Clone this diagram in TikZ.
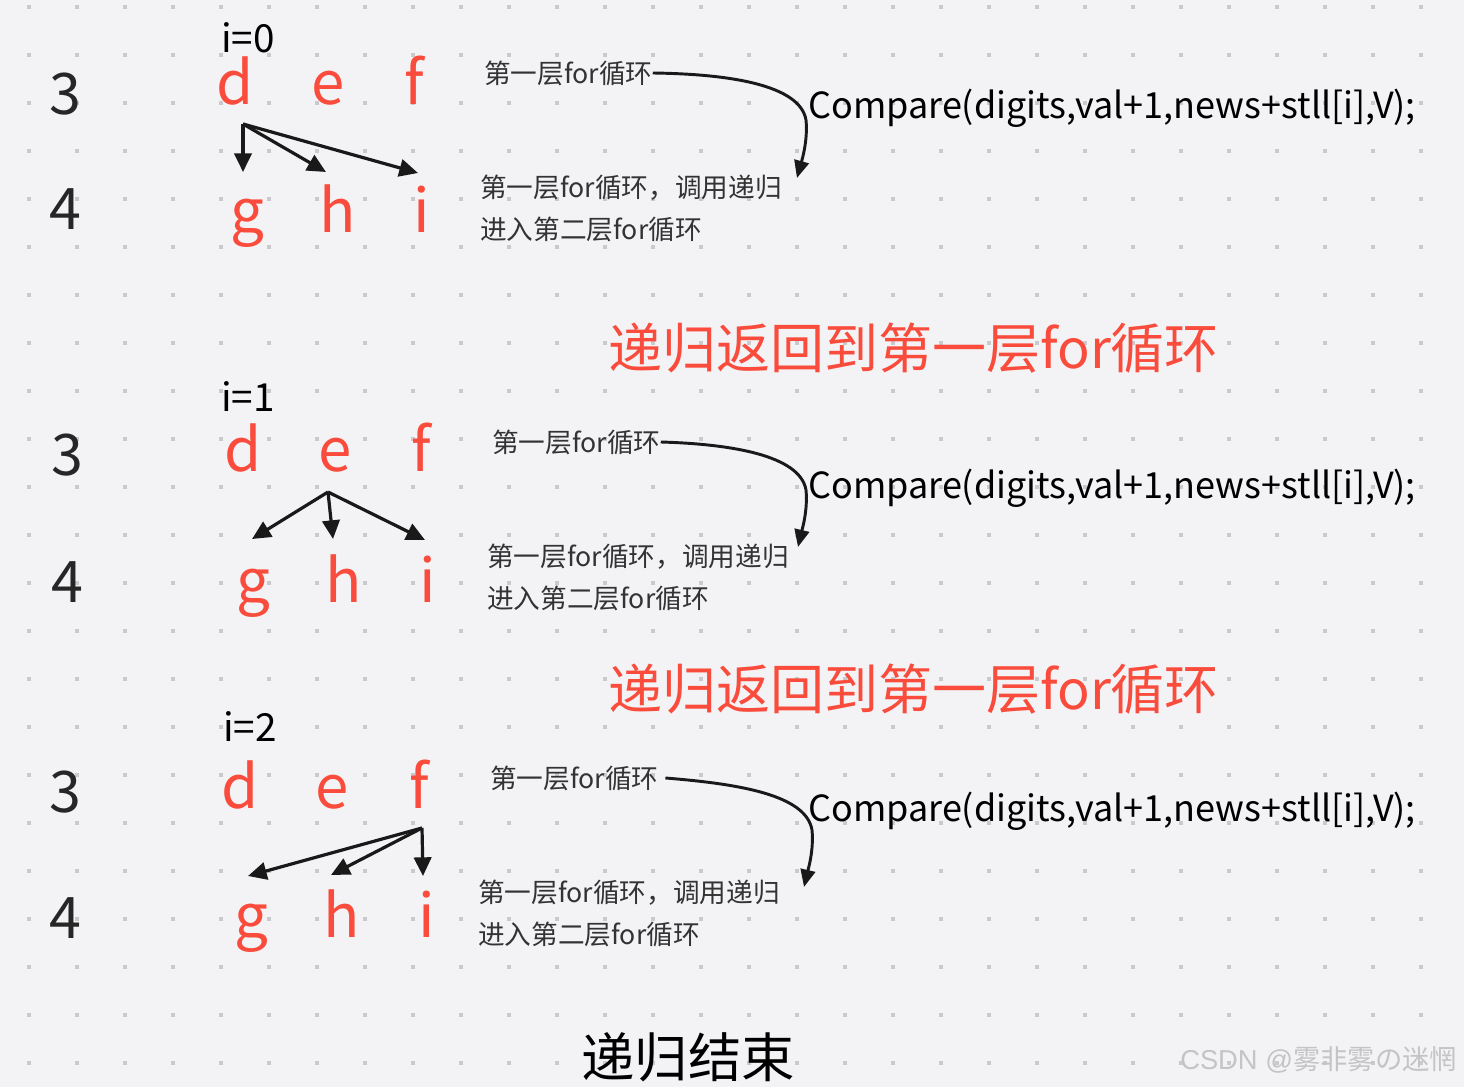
\documentclass[tikz,border=0pt]{standalone}
\usepackage{fontspec}
\setmainfont{Noto Sans CJK SC}
\newfontfamily\wmlatin{Liberation Sans}
\usetikzlibrary{arrows.meta, positioning, calc}
\definecolor{boardgray}{RGB}{243,243,246}
\definecolor{dotgray}{RGB}{202,202,206}
\definecolor{recred}{RGB}{250,76,60}
\definecolor{markgray}{RGB}{196,196,198}
\tikzset{
  level/.style={
    anchor=base, inner sep=0pt,
    font=\fontsize{43}{43}\selectfont, text=black!85
  },
  letter/.style={
    anchor=base, inner sep=0pt,
    font=\fontsize{45}{45}\selectfont, text=recred
  },
  idx/.style={
    anchor=base west, inner sep=0pt,
    font=\fontsize{29}{29}\selectfont, text=black
  },
  note/.style={
    anchor=west, inner sep=0pt,
    font=\fontsize{20}{20}\selectfont, text=black!80
  },
  call/.style={
    anchor=west, inner sep=0pt,
    font=\fontsize{27}{27}\selectfont, text=black
  },
  back/.style={
    anchor=west, inner sep=0pt,
    font=\fontsize{40.5}{40.5}\selectfont, text=recred
  },
  link/.style={line width=2.4pt, color=black!90, -{Triangle[length=14pt,width=13pt]}},
  hop/.style={line width=2.2pt, color=black!90, -{Triangle[length=13pt,width=11pt]}},
}

\begin{document}
\begin{tikzpicture}[x=0.75pt, y=-0.75pt]
  % board with dot grid
  \fill[boardgray] (0,0) rectangle (1464,1087);
  \foreach \gx in {0,...,29} {
    \foreach \gy in {0,...,22} {
      \fill[dotgray] ({29+48*\gx-2},{7+48*\gy-2}) rectangle ++(4,4);
    }
  }
  \useasboundingbox (0,0) rectangle (1464,1087);

  % i=0
  \node (k0)  [idx]    at (221,53)  {i=0};
  \node (l03) [level]  at (65,115)  {3};
  \node (l04) [level]  at (65,230)  {4};
  \node (d0)  [letter] at (235,105) {d};
  \node (e0)  [letter] at (328,105) {e};
  \node (f0)  [letter] at (414,105) {f};
  \node (g0)  [letter] at (247,233) {g};
  \node (h0)  [letter] at (338,233) {h};
  \node (i0)  [letter] at (422,233) {i};
  \coordinate (s0) at (243,124);
  \coordinate (tg0) at (243,172);
  \coordinate (th0) at (326,172);
  \coordinate (ti0) at (418,173);
  \draw [link] (s0) -- (tg0);
  \draw [link] (s0) -- (th0);
  \draw [link] (s0) -- (ti0);
  \node (n0)  [note] at (484,73)  {第一层for循环};
  \node (m0)  [note] at (480,188) {第一层for循环，调用递归};
  \node (p0)  [note, below=12pt of m0.south west, anchor=north west] {进入第二层for循环};
  \node (c0)  [call] at (808,108) {Compare(digits,val+1,news+stll[i],V);};
  \coordinate (r0) at (797,178);
  \draw [hop] (n0.east) .. controls (730,74) and (800,85) .. (806,120)
                        .. controls (808,140) and (802,160) .. (r0);

  \node (b0) [back] at (608,348) {递归返回到第一层for循环};

  % i=1
  \node (k1)  [idx]    at (221,412) {i=1};
  \node (l13) [level]  at (67,475)  {3};
  \node (l14) [level]  at (67,602)  {4};
  \node (d1)  [letter] at (243,472) {d};
  \node (e1)  [letter] at (335,472) {e};
  \node (f1)  [letter] at (421,472) {f};
  \node (g1)  [letter] at (253,602) {g};
  \node (h1)  [letter] at (344,602) {h};
  \node (i1)  [letter] at (428,602) {i};
  \coordinate (s1) at (328,492);
  \coordinate (tg1) at (252,539);
  \coordinate (th1) at (333,539);
  \coordinate (ti1) at (425,540);
  \draw [link] (s1) -- (tg1);
  \draw [link] (s1) -- (th1);
  \draw [link] (s1) -- (ti1);
  \node (n1)  [note] at (492,442) {第一层for循环};
  \node (m1)  [note] at (487,557) {第一层for循环，调用递归};
  \node (p1)  [note, below=12pt of m1.south west, anchor=north west] {进入第二层for循环};
  \node (c1)  [call] at (808,488) {Compare(digits,val+1,news+stll[i],V);};
  \coordinate (r1) at (798,547);
  \draw [hop] (n1.east) .. controls (730,444) and (800,455) .. (806,490)
                        .. controls (808,510) and (802,530) .. (r1);

  \node (b1) [back] at (608,689) {递归返回到第一层for循环};

  % i=2
  \node (k2)  [idx]    at (223,741) {i=2};
  \node (l23) [level]  at (65,812)  {3};
  \node (l24) [level]  at (65,938)  {4};
  \node (d2)  [letter] at (240,808) {d};
  \node (e2)  [letter] at (332,808) {e};
  \node (f2)  [letter] at (419,808) {f};
  \node (g2)  [letter] at (251,937) {g};
  \node (h2)  [letter] at (342,937) {h};
  \node (i2)  [letter] at (427,937) {i};
  \coordinate (s2) at (422,828);
  \coordinate (tg2) at (248,876);
  \coordinate (th2) at (331,875);
  \coordinate (ti2) at (423,876);
  \draw [link] (s2) -- (tg2);
  \draw [link] (s2) -- (th2);
  \draw [link] (s2) -- (ti2);
  \node (n2)  [note] at (490,778) {第一层for循环};
  \node (m2)  [note] at (478,893) {第一层for循环，调用递归};
  \node (p2)  [note, below=12pt of m2.south west, anchor=north west] {进入第二层for循环};
  \node (c2)  [call] at (808,811) {Compare(digits,val+1,news+stll[i],V);};
  \coordinate (r2) at (804,887);
  \draw [hop] ([xshift=5pt]n2.east) .. controls (740,784) and (806,795) .. (812,830)
                                    .. controls (814,850) and (808,870) .. (r2);

  \node (end) [inner sep=0pt, font=\fontsize{40}{40}\selectfont] at (688,1057) {递归结束};
  \node (wm)  [inner sep=0pt, anchor=west, text=markgray, font=\fontsize{20.5}{20.5}\selectfont]
    at (1180,1060) {{\wmlatin CSDN @}雾非雾の迷惘};
\end{tikzpicture}
\end{document}
